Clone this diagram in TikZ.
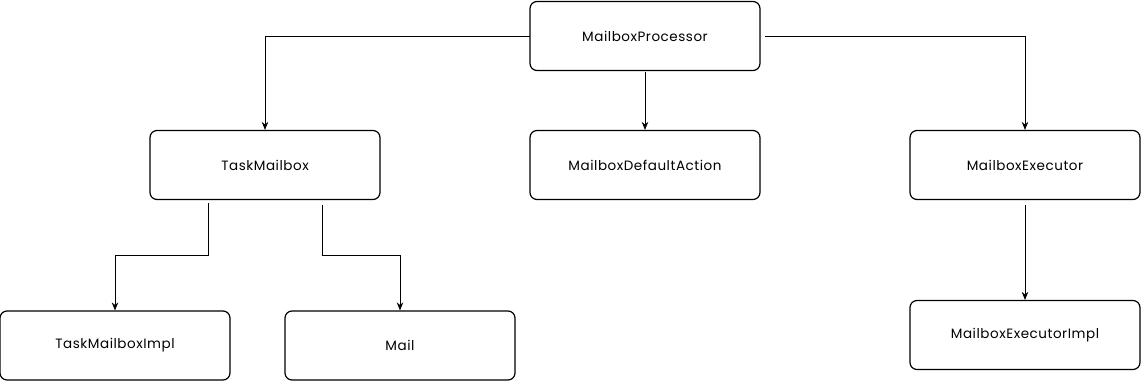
\documentclass[tikz,border=0pt]{standalone}
\usepackage{fontspec}
\setmainfont{Poppins}[LetterSpace=4]
\usetikzlibrary{arrows.meta}
\begin{document}
\begin{tikzpicture}[x=1pt,y=-1pt,
  box/.style={draw=black,line width=1.2pt,rounded corners=7pt,minimum width=230pt,minimum height=69pt,inner sep=0pt,fill=white,font=\fontsize{13.5}{15}\selectfont},
  conn/.style={draw=black,line width=0.8pt,-{Stealth[length=8pt,width=6.5pt]}}]
\useasboundingbox (0,0) rectangle (1141,382);
\node[box] (proc) at (645,36) {MailboxProcessor};
\node[box] (tm) at (265,165) {TaskMailbox};
\node[box] (def) at (645,165) {MailboxDefaultAction};
\node[box] (exe) at (1025,165) {MailboxExecutor};
\node[box] (tmi) at (115,345.5) {TaskMailboxImpl};
\node[box] (mail) at (400,345.5) {Mail};
\node[box] (exi) at (1025,335) {MailboxExecutorImpl};
\coordinate (pl) at (530,36);
\coordinate (pr) at (765,36);
\coordinate (pb) at (645,72);
\coordinate (t1) at (208,203);
\coordinate (t2) at (322,205);
\coordinate (eb) at (1025,205);
\draw[conn] (pl) -| (tm.north);
\draw[conn] (pr) -| (exe.north);
\draw[conn] (pb) -- (def.north);
\draw[conn] (t1) -- (208,255) -| (tmi.north);
\draw[conn] (t2) -- (322,255) -| (mail.north);
\draw[conn] (eb) -- (exi.north);
\end{tikzpicture}
\end{document}
